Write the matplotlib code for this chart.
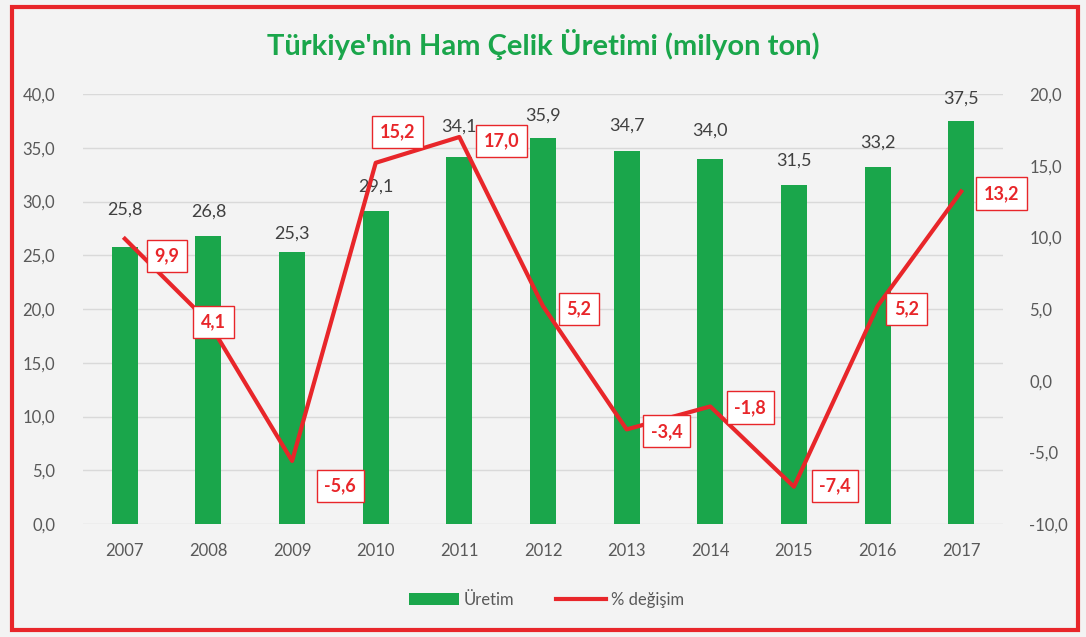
import matplotlib
matplotlib.use("Agg")
import matplotlib.pyplot as plt
from matplotlib.patches import Rectangle

# data
years = ["2007", "2008", "2009", "2010", "2011", "2012", "2013", "2014", "2015", "2016", "2017"]
uretim = [25.8, 26.8, 25.3, 29.1, 34.1, 35.9, 34.7, 34.0, 31.5, 33.2, 37.5]
degisim = [9.9, 4.1, -5.6, 15.2, 17.0, 5.2, -3.4, -1.8, -7.4, 5.2, 13.2]

# label nudges (pixels), picked by eye from the original
bar_lab_dy = [37, 24, 18, 25, 31, 22, 25, 28, 25, 24, 22]
pct_lab_off = [(42, -17), (5, 0), (48, -25), (22, 31), (42, -4), (36, -3),
               (40, -2), (40, -1), (41, 1), (29, -3), (40, -2)]

GREEN = "#1aa64b"
RED = "#e8262a"
GRAY = "#595959"
BG = "#f3f3f3"

def fmt(v):
    return ("%.1f" % v).replace(".", ",")

plt.rcParams["font.family"] = ["Lato", "DejaVu Sans"]

fig = plt.figure(figsize=(10.86, 6.37), dpi=100, facecolor=BG)
ax = fig.add_axes([83 / 1086, 1 - 524 / 637, 920 / 1086, 430 / 637], facecolor=BG)
ax2 = ax.twinx()

x = list(range(len(years)))
ax.bar(x, uretim, width=0.31, color=GREEN, zorder=2, label="Üretim")
ax.set_ylim(0, 40)
ax.set_yticks([i * 5 for i in range(9)])
ax.set_yticklabels([fmt(i * 5) for i in range(9)])
ax.set_xlim(-0.5, len(years) - 0.5)
ax.set_xticks(x)
ax.set_xticklabels(years)
ax.grid(axis="y", color="#d9d9d9", lw=1, zorder=0)
ax.set_axisbelow(True)

ax2.plot(x, degisim, color=RED, lw=3, zorder=3, label="% değişim")
ax2.set_ylim(-10, 20)
ax2.set_yticks([-10 + i * 5 for i in range(7)])
ax2.set_yticklabels([fmt(-10 + i * 5) for i in range(7)])

for a in (ax, ax2):
    for s in a.spines.values():
        s.set_visible(False)
    a.tick_params(length=0, labelsize=12, labelcolor=GRAY)
ax.tick_params(axis="y", pad=20)
ax.tick_params(axis="x", pad=14)
ax2.tick_params(axis="y", pad=19)

for i, v in enumerate(uretim):
    ax.annotate(fmt(v), (i, v), xytext=(0, bar_lab_dy[i]), textcoords="offset pixels",
                ha="center", va="center", fontsize=13, color="#404040")

for i, v in enumerate(degisim):
    dx, dy = pct_lab_off[i]
    ax2.annotate(fmt(v), (i, v), xytext=(dx, dy), textcoords="offset pixels",
                 ha="center", va="center", fontsize=13, fontweight="bold", color=RED,
                 zorder=5,
                 bbox=dict(boxstyle="square,pad=0.42", fc="white", ec=RED, lw=1))

fig.text(0.5, 1 - 45 / 637, "Türkiye'nin Ham Çelik Üretimi (milyon ton)", ha="center",
         va="center", fontsize=21, fontweight="bold", color=GREEN)

h1, l1 = ax.get_legend_handles_labels()
h2, l2 = ax2.get_legend_handles_labels()
fig.legend(h1 + h2, l1 + l2, loc="center", bbox_to_anchor=(0.503, 1 - 600 / 637), ncol=2,
           frameon=False, fontsize=12, labelcolor=GRAY, handlelength=3.0,
           handletextpad=0.3, columnspacing=2.5)

fig.patches.append(Rectangle((12 / 1086, 7 / 637), 1066 / 1086, 623 / 637,
                             transform=fig.transFigure, fill=False, ec=RED, lw=3))

fig.savefig("out.png", dpi=100, facecolor=BG)
